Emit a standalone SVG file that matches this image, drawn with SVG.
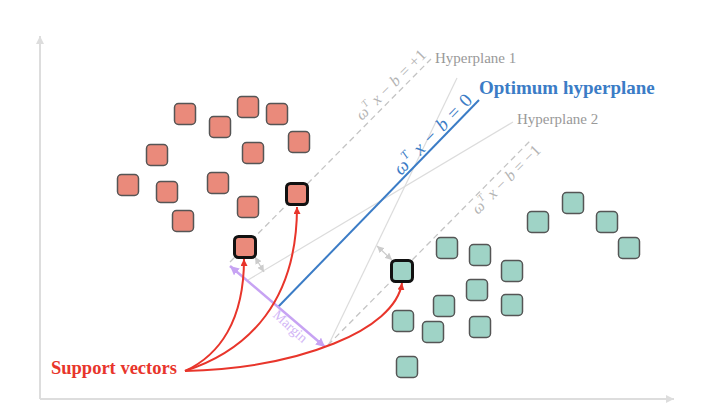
<svg xmlns="http://www.w3.org/2000/svg" width="706" height="418" viewBox="0 0 706 418">
<defs>
<style>
.ax{stroke:#dddddd;stroke-width:2;fill:none}
.hp{stroke:#dcdcdc;stroke-width:1.2;fill:none}
.dash{stroke:#c4c4c4;stroke-width:1.3;fill:none;stroke-dasharray:6 4}
.opt{stroke:#3b7cc6;stroke-width:2;fill:none}
.sv{stroke:#e8352b;stroke-width:2;fill:none;marker-end:url(#ar)}
.gap{stroke:#cccccc;stroke-width:1.3;fill:none;marker-start:url(#ag);marker-end:url(#ag)}
.mar{stroke:#c7a3f3;stroke-width:2.5;fill:none;marker-start:url(#am);marker-end:url(#am)}
.r rect{fill:#ea8a7b;stroke:#555;stroke-width:1.5}
.t rect{fill:#9fd3c6;stroke:#555;stroke-width:1.5}
rect.s{stroke:#111 !important;stroke-width:3 !important}
.lbl{font-family:"Liberation Serif","Times New Roman",serif}
.gtx{fill:#999999;font-size:15px}
.eq{fill:#b3b3b3;font-size:16px}
</style>
<marker id="ar" viewBox="0 0 10 10" refX="10" refY="5" markerWidth="7" markerHeight="7" markerUnits="userSpaceOnUse" orient="auto"><path d="M0,0 L10,5 L0,10 z" fill="#e8352b"/></marker>
<marker id="ag" viewBox="0 0 10 10" refX="10" refY="5" markerWidth="7" markerHeight="7" markerUnits="userSpaceOnUse" orient="auto-start-reverse"><path d="M0,0 L10,5 L0,10 z" fill="#cccccc"/></marker>
<marker id="am" viewBox="0 0 10 10" refX="10" refY="5" markerWidth="9" markerHeight="9" markerUnits="userSpaceOnUse" orient="auto-start-reverse"><path d="M0,0 L10,5 L0,10 z" fill="#c7a3f3"/></marker>
<marker id="ax" viewBox="0 0 10 10" refX="10" refY="5" markerWidth="8" markerHeight="8" markerUnits="userSpaceOnUse" orient="auto"><path d="M0,0 L10,5 L0,10 z" fill="#dddddd"/></marker>
</defs>
<rect width="706" height="418" fill="#ffffff"/>
<g id="axes">
<path class="ax" d="M40,399 L674,399" marker-end="url(#ax)"/>
<path class="ax" d="M40,399 L40,36" marker-end="url(#ax)"/>
</g>
<g id="connectors">
<path class="hp" d="M457,78 L328,346"/>
<path class="hp" d="M513,122 L248,280"/>
<path class="dash" d="M230,262 L431,59"/>
<path class="dash" d="M328,345 L530,141"/>
<path class="opt" d="M278,307 L479,100"/>
<path class="gap" d="M255,257 L264,272"/>
<path class="gap" d="M377,246 L392,260"/>
<path class="mar" d="M230,266 L325,347"/>
<path class="sv" d="M185,371 C220,355 244,320 244,259"/>
<path class="sv" d="M185,371 C250,350 297,300 297,207"/>
<path class="sv" d="M185,371 C300,368 395,330 402,283"/>
</g>
<g id="red-class" class="r">
<g id="r1"><rect x="174.5" y="103.5" width="21" height="21" rx="4"/></g>
<g id="r2"><rect x="209.5" y="116.5" width="21" height="21" rx="4"/></g>
<g id="r3"><rect x="237.5" y="96.5" width="21" height="21" rx="4"/></g>
<g id="r4"><rect x="266.5" y="103.5" width="21" height="21" rx="4"/></g>
<g id="r5"><rect x="288.5" y="131.5" width="21" height="21" rx="4"/></g>
<g id="r6"><rect x="242.5" y="142.5" width="21" height="21" rx="4"/></g>
<g id="r7"><rect x="146.5" y="144.5" width="21" height="21" rx="4"/></g>
<g id="r8"><rect x="117.5" y="174.5" width="21" height="21" rx="4"/></g>
<g id="r9"><rect x="156.5" y="181.5" width="21" height="21" rx="4"/></g>
<g id="r10"><rect x="207.5" y="172.5" width="21" height="21" rx="4"/></g>
<g id="r11"><rect x="237.5" y="196.5" width="21" height="21" rx="4"/></g>
<g id="r12"><rect x="172.5" y="210.5" width="21" height="21" rx="4"/></g>
<g id="r-sv1"><rect class="s" x="286.5" y="183.5" width="21" height="21" rx="4"/></g>
<g id="r-sv2"><rect class="s" x="234.5" y="236.5" width="21" height="21" rx="4"/></g>
</g>
<g id="teal-class" class="t">
<g id="t1"><rect x="527.5" y="211.5" width="21" height="21" rx="4"/></g>
<g id="t2"><rect x="562.5" y="192.5" width="21" height="21" rx="4"/></g>
<g id="t3"><rect x="596.5" y="211.5" width="21" height="21" rx="4"/></g>
<g id="t4"><rect x="618.5" y="237.5" width="21" height="21" rx="4"/></g>
<g id="t5"><rect x="436.5" y="237.5" width="21" height="21" rx="4"/></g>
<g id="t6"><rect x="469.5" y="244.5" width="21" height="21" rx="4"/></g>
<g id="t7"><rect x="501.5" y="260.5" width="21" height="21" rx="4"/></g>
<g id="t8"><rect x="466.5" y="279.5" width="21" height="21" rx="4"/></g>
<g id="t9"><rect x="433.5" y="295.5" width="21" height="21" rx="4"/></g>
<g id="t10"><rect x="501.5" y="294.5" width="21" height="21" rx="4"/></g>
<g id="t11"><rect x="392.5" y="310.5" width="21" height="21" rx="4"/></g>
<g id="t12"><rect x="422.5" y="321.5" width="21" height="21" rx="4"/></g>
<g id="t13"><rect x="469.5" y="316.5" width="21" height="21" rx="4"/></g>
<g id="t14"><rect x="396.5" y="356.5" width="21" height="21" rx="4"/></g>
<g id="t-sv"><rect class="s" x="391.5" y="260.5" width="21" height="21" rx="4"/></g>
</g>
<g id="labels" class="lbl">
<text class="gtx" x="435" y="63">Hyperplane 1</text>
<text class="gtx" x="517" y="124">Hyperplane 2</text>
<text x="479" y="94" font-size="19" font-weight="bold" fill="#3b7cc6">Optimum hyperplane</text>
<text class="eq" transform="translate(362,121) rotate(-45)" textLength="92" lengthAdjust="spacing"><tspan font-style="italic">ω</tspan><tspan font-style="italic" font-size="10" dy="-7">T</tspan><tspan dy="7" font-style="italic"> x</tspan> − <tspan font-style="italic">b</tspan> = +1</text>
<text class="eq" transform="translate(478,215) rotate(-45)" textLength="90" lengthAdjust="spacing"><tspan font-style="italic">ω</tspan><tspan font-style="italic" font-size="10" dy="-7">T</tspan><tspan dy="7" font-style="italic"> x</tspan> − <tspan font-style="italic">b</tspan> = −1</text>
<text font-size="19" fill="#3b7cc6" transform="translate(401,176) rotate(-46)" textLength="104" lengthAdjust="spacing"><tspan font-style="italic">ω</tspan><tspan font-style="italic" font-size="12" dy="-8">T</tspan><tspan dy="8" font-style="italic"> x</tspan> − <tspan font-style="italic">b</tspan> = 0</text>
<text font-size="14" fill="#d2b6f6" transform="translate(272,316) rotate(42)">Margin</text>
<text x="51" y="374" font-size="18.5" font-weight="bold" fill="#e8352b">Support vectors</text>
</g>
</svg>
